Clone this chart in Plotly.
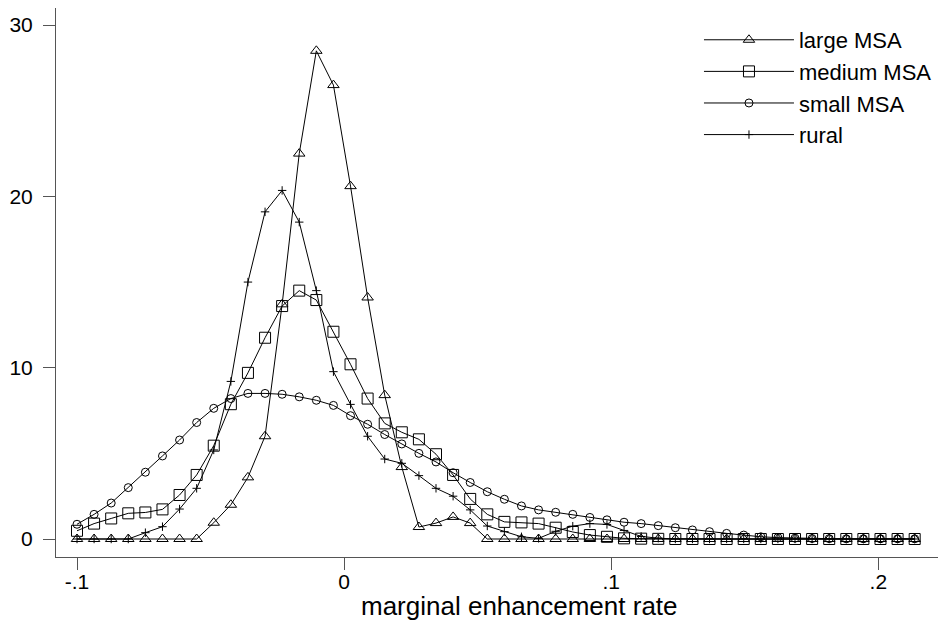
import plotly.graph_objects as go

x_rate = [-0.1, -0.0936, -0.0872, -0.0808, -0.0744, -0.068, -0.0616, -0.0552, -0.0488, -0.0424,
          -0.036, -0.0296, -0.0232, -0.0168, -0.0104, -0.004, 0.0024, 0.0088, 0.0152, 0.0216,
          0.028, 0.0344, 0.0408, 0.0472, 0.0536, 0.06, 0.0664, 0.0728, 0.0792, 0.0856,
          0.092, 0.0984, 0.1048, 0.1112, 0.1176, 0.124, 0.1304, 0.1368, 0.1432, 0.1496,
          0.156, 0.1624, 0.1688, 0.1752, 0.1816, 0.188, 0.1944, 0.2008, 0.2072, 0.2136]

large_msa = [0, 0, 0, 0, 0, 0, 0, 0, 0.95, 2.0,
             3.6, 6.0, 13.7, 22.5, 28.5, 26.5, 20.6, 14.1, 8.4, 4.2,
             0.7, 0.93, 1.29, 0.93, 0, 0, 0, 0, 0, 0,
             0, 0, 0, 0, 0, 0, 0, 0, 0, 0,
             0, 0, 0, 0, 0, 0, 0, 0, 0, 0]

medium_msa = [0.48, 0.9, 1.2, 1.5, 1.55, 1.73, 2.57, 3.74, 5.45, 7.87,
              9.7, 11.75, 13.6, 14.5, 13.95, 12.1, 10.2, 8.2, 6.75, 6.23,
              5.82, 4.95, 3.74, 2.34, 1.44, 1.0, 0.97, 0.9, 0.66, 0.41,
              0.23, 0.13, 0.04, 0.02, 0.01, 0, 0, 0, 0, 0,
              0, 0, 0, 0, 0, 0, 0, 0, 0, 0]

small_msa = [0.86, 1.44, 2.1, 3.0, 3.9, 4.85, 5.78, 6.8, 7.63, 8.2,
             8.5, 8.5, 8.45, 8.3, 8.1, 7.8, 7.2, 6.7, 6.1, 5.55,
             5.0, 4.5, 3.87, 3.3, 2.76, 2.32, 1.93, 1.7, 1.56, 1.44,
             1.26, 1.12, 0.98, 0.9, 0.78, 0.66, 0.53, 0.43, 0.33, 0.23,
             0.13, 0.08, 0.05, 0.03, 0.02, 0.01, 0.01, 0.01, 0.01, 0.01]

rural = [0, 0, 0, 0, 0.37, 0.72, 1.75, 2.96, 5.2, 9.2,
         15.0, 19.1, 20.35, 18.5, 14.5, 9.77, 7.86, 6.0, 4.67, 4.42,
         3.7, 2.96, 2.5, 1.7, 0.76, 0.43, 0.13, 0.04, 0.45, 0.75,
         0.9, 0.85, 0.5, 0.15, 0.05, 0, 0, 0, 0, 0,
         0, 0, 0, 0, 0, 0, 0, 0, 0, 0]

series_names = ["large MSA", "medium MSA", "small MSA", "rural"]
x_tick_vals = [-0.1, 0, 0.1, 0.2]
x_tick_text = ["-.1", "0", ".1", ".2"]
y_tick_vals = [0, 10, 20, 30]
y_tick_text = ["0", "10", "20", "30"]
x_title = "marginal enhancement rate"

FONT = "Liberation Sans, Arial, Helvetica, sans-serif"
series = [
    (series_names[0], large_msa, "triangle-up-open", 10),
    (series_names[1], medium_msa, "square-open", 11),
    (series_names[2], small_msa, "circle-open", 8),
    (series_names[3], rural, "cross-thin", 6),
]

fig = go.Figure()
for name, vals, sym, sz in series:
    fig.add_trace(go.Scatter(
        x=x_rate, y=vals, name=name, mode="lines+markers",
        line=dict(color="black", width=1),
        marker=dict(symbol=sym, size=sz, color="black",
                    line=dict(color="black", width=1)),
    ))

# the page body keeps its default 8px margin, so the figure is sized to fit after it
fig.update_layout(
    width=939, height=612,
    margin=dict(l=48, r=9, t=0, b=63, autoexpand=False),
    paper_bgcolor="white", plot_bgcolor="white",
    font=dict(family=FONT, size=21, color="black"),
    showlegend=True,
    legend=dict(
        x=0.729, y=0.98, xanchor="left", yanchor="top",
        bgcolor="rgba(0,0,0,0)", borderwidth=0,
        font=dict(family=FONT, size=22, color="black"),
        itemwidth=90, tracegroupgap=0,
    ),
    xaxis=dict(
        range=[-0.10786, 0.22233], tickvals=x_tick_vals, ticktext=x_tick_text,
        showgrid=False, zeroline=False, showline=True, linecolor="#555", linewidth=1,
        ticks="outside", ticklen=12, tickcolor="#555", tickwidth=1,
        tickfont=dict(family=FONT, size=21), automargin=False, ticklabelstandoff=-6,
    ),
    yaxis=dict(
        range=[-1.05, 31.0], tickvals=y_tick_vals, ticktext=y_tick_text,
        showgrid=False, zeroline=False, showline=True, linecolor="#555", linewidth=1,
        ticks="outside", ticklen=12, tickcolor="#555", tickwidth=1,
        tickfont=dict(family=FONT, size=21), ticklabelstandoff=6, automargin=False,
    ),
    annotations=[dict(
        text=x_title, xref="paper", yref="paper", x=0.526, y=-0.089,
        xanchor="center", yanchor="middle", showarrow=False,
        font=dict(family=FONT, size=26, color="black"),
    )],
)

fig.write_html("out.html")
